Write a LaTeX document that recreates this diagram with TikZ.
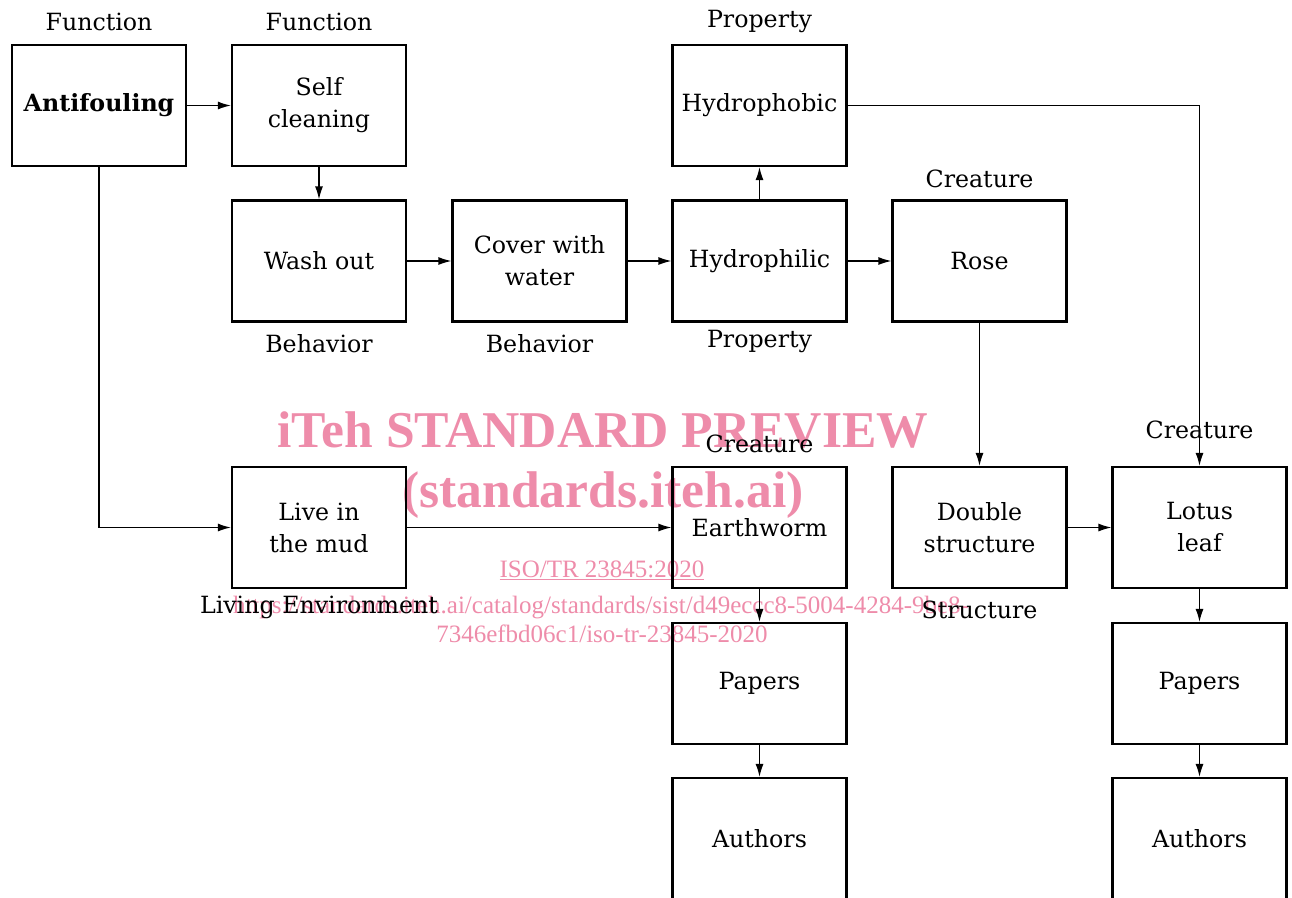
\documentclass[tikz,border=0pt]{standalone}
\usepackage{fontspec}
\setmainfont{DejaVu Serif}
\newfontfamily\wmfont{Liberation Serif}
\usetikzlibrary{arrows.meta}
\definecolor{wmpink}{RGB}{238,140,170}
\begin{document}
\begin{tikzpicture}[x=1pt,y=-1pt,
  box/.style={draw, line width=2.2pt, minimum width=174pt, minimum height=121pt, inner sep=0pt, align=center, font=\fontsize{23.7}{32}\selectfont},
  lbl/.style={anchor=base, inner sep=0pt, font=\fontsize{23.7}{28}\selectfont},
  conn/.style={line width=1.3pt, -{Latex[length=13pt,width=8pt]}},
  wm/.style={text=wmpink, inner sep=0pt, anchor=base}
]
\useasboundingbox (0,0) rectangle (1292,897);
% watermark
\node[wm, font=\wmfont\bfseries\fontsize{51.6}{51}\selectfont] (wm1) at (603,447) {iTeh STANDARD PREVIEW};
\node[wm, font=\wmfont\bfseries\fontsize{51.6}{51}\selectfont] (wm2) at (603,507) {(standards.iteh.ai)};
\node[wm, font=\wmfont\fontsize{25}{25}\selectfont] (wm3) at (602,577) {\underline{ISO/TR 23845:2020}};
\node[wm, font=\wmfont\fontsize{25}{25}\selectfont] (wm4) at (601,613) {https://standards.iteh.ai/catalog/standards/sist/d49eccc8-5004-4284-9be8-};
\node[wm, font=\wmfont\fontsize{25}{25}\selectfont] (wm5) at (602,642) {7346efbd06c1/iso-tr-23845-2020};
% boxes
\node[box] (anti) at (99,105.5) {\bfseries Antifouling};
\node[box] (self) at (319,105.5) {Self\\cleaning};
\node[box] (phob) at (759.5,105.5) {Hydrophobic};
\node[box] (wash) at (319,261) {Wash out};
\node[box] (cover) at (539.5,261) {Cover with\\water};
\node[box] (phil) at (759.5,261) {Hydrophilic};
\node[box] (rose) at (979.5,261) {Rose};
\node[box] (mud) at (319,527.5) {Live in\\the mud};
\node[box] (worm) at (759.5,527.5) {Earthworm};
\node[box] (double) at (979.5,527.5) {Double\\structure};
\node[box] (lotus) at (1199.5,527.5) {Lotus\\leaf};
\node[box] (pap1) at (759.5,683.5) {Papers};
\node[box] (pap2) at (1199.5,683.5) {Papers};
\node[box] (auth1) at (759.5,838.5) {Authors};
\node[box] (auth2) at (1199.5,838.5) {Authors};
% labels
\node[lbl] (l1) at (99,30) {Function};
\node[lbl] (l2) at (319,30) {Function};
\node[lbl] (l3) at (759.5,27) {Property};
\node[lbl] (l4) at (979.5,187) {Creature};
\node[lbl] (l5) at (319,352) {Behavior};
\node[lbl] (l6) at (539.5,352) {Behavior};
\node[lbl] (l7) at (759.5,347) {Property};
\node[lbl] (l8) at (759.5,452) {Creature};
\node[lbl] (l9) at (1199.5,438) {Creature};
\node[lbl] (l10) at (319,613) {Living Environment};
\node[lbl] (l11) at (979.5,618) {Structure};
% connectors
\draw[conn] (anti) -- (self);
\draw[conn] (self) -- (wash);
\draw[conn] (wash) -- (cover);
\draw[conn] (cover) -- (phil);
\draw[conn] (phil) -- (phob);
\draw[conn] (phil) -- (rose);
\draw[conn] (phob.east) -| (lotus.north);
\draw[conn] (rose) -- (double);
\draw[conn] (anti.south) |- (mud.west);
\draw[conn] (mud) -- (worm);
\draw[conn] (worm) -- (pap1);
\draw[conn] (pap1) -- (auth1);
\draw[conn] (double) -- (lotus);
\draw[conn] (lotus) -- (pap2);
\draw[conn] (pap2) -- (auth2);
\end{tikzpicture}
\end{document}
